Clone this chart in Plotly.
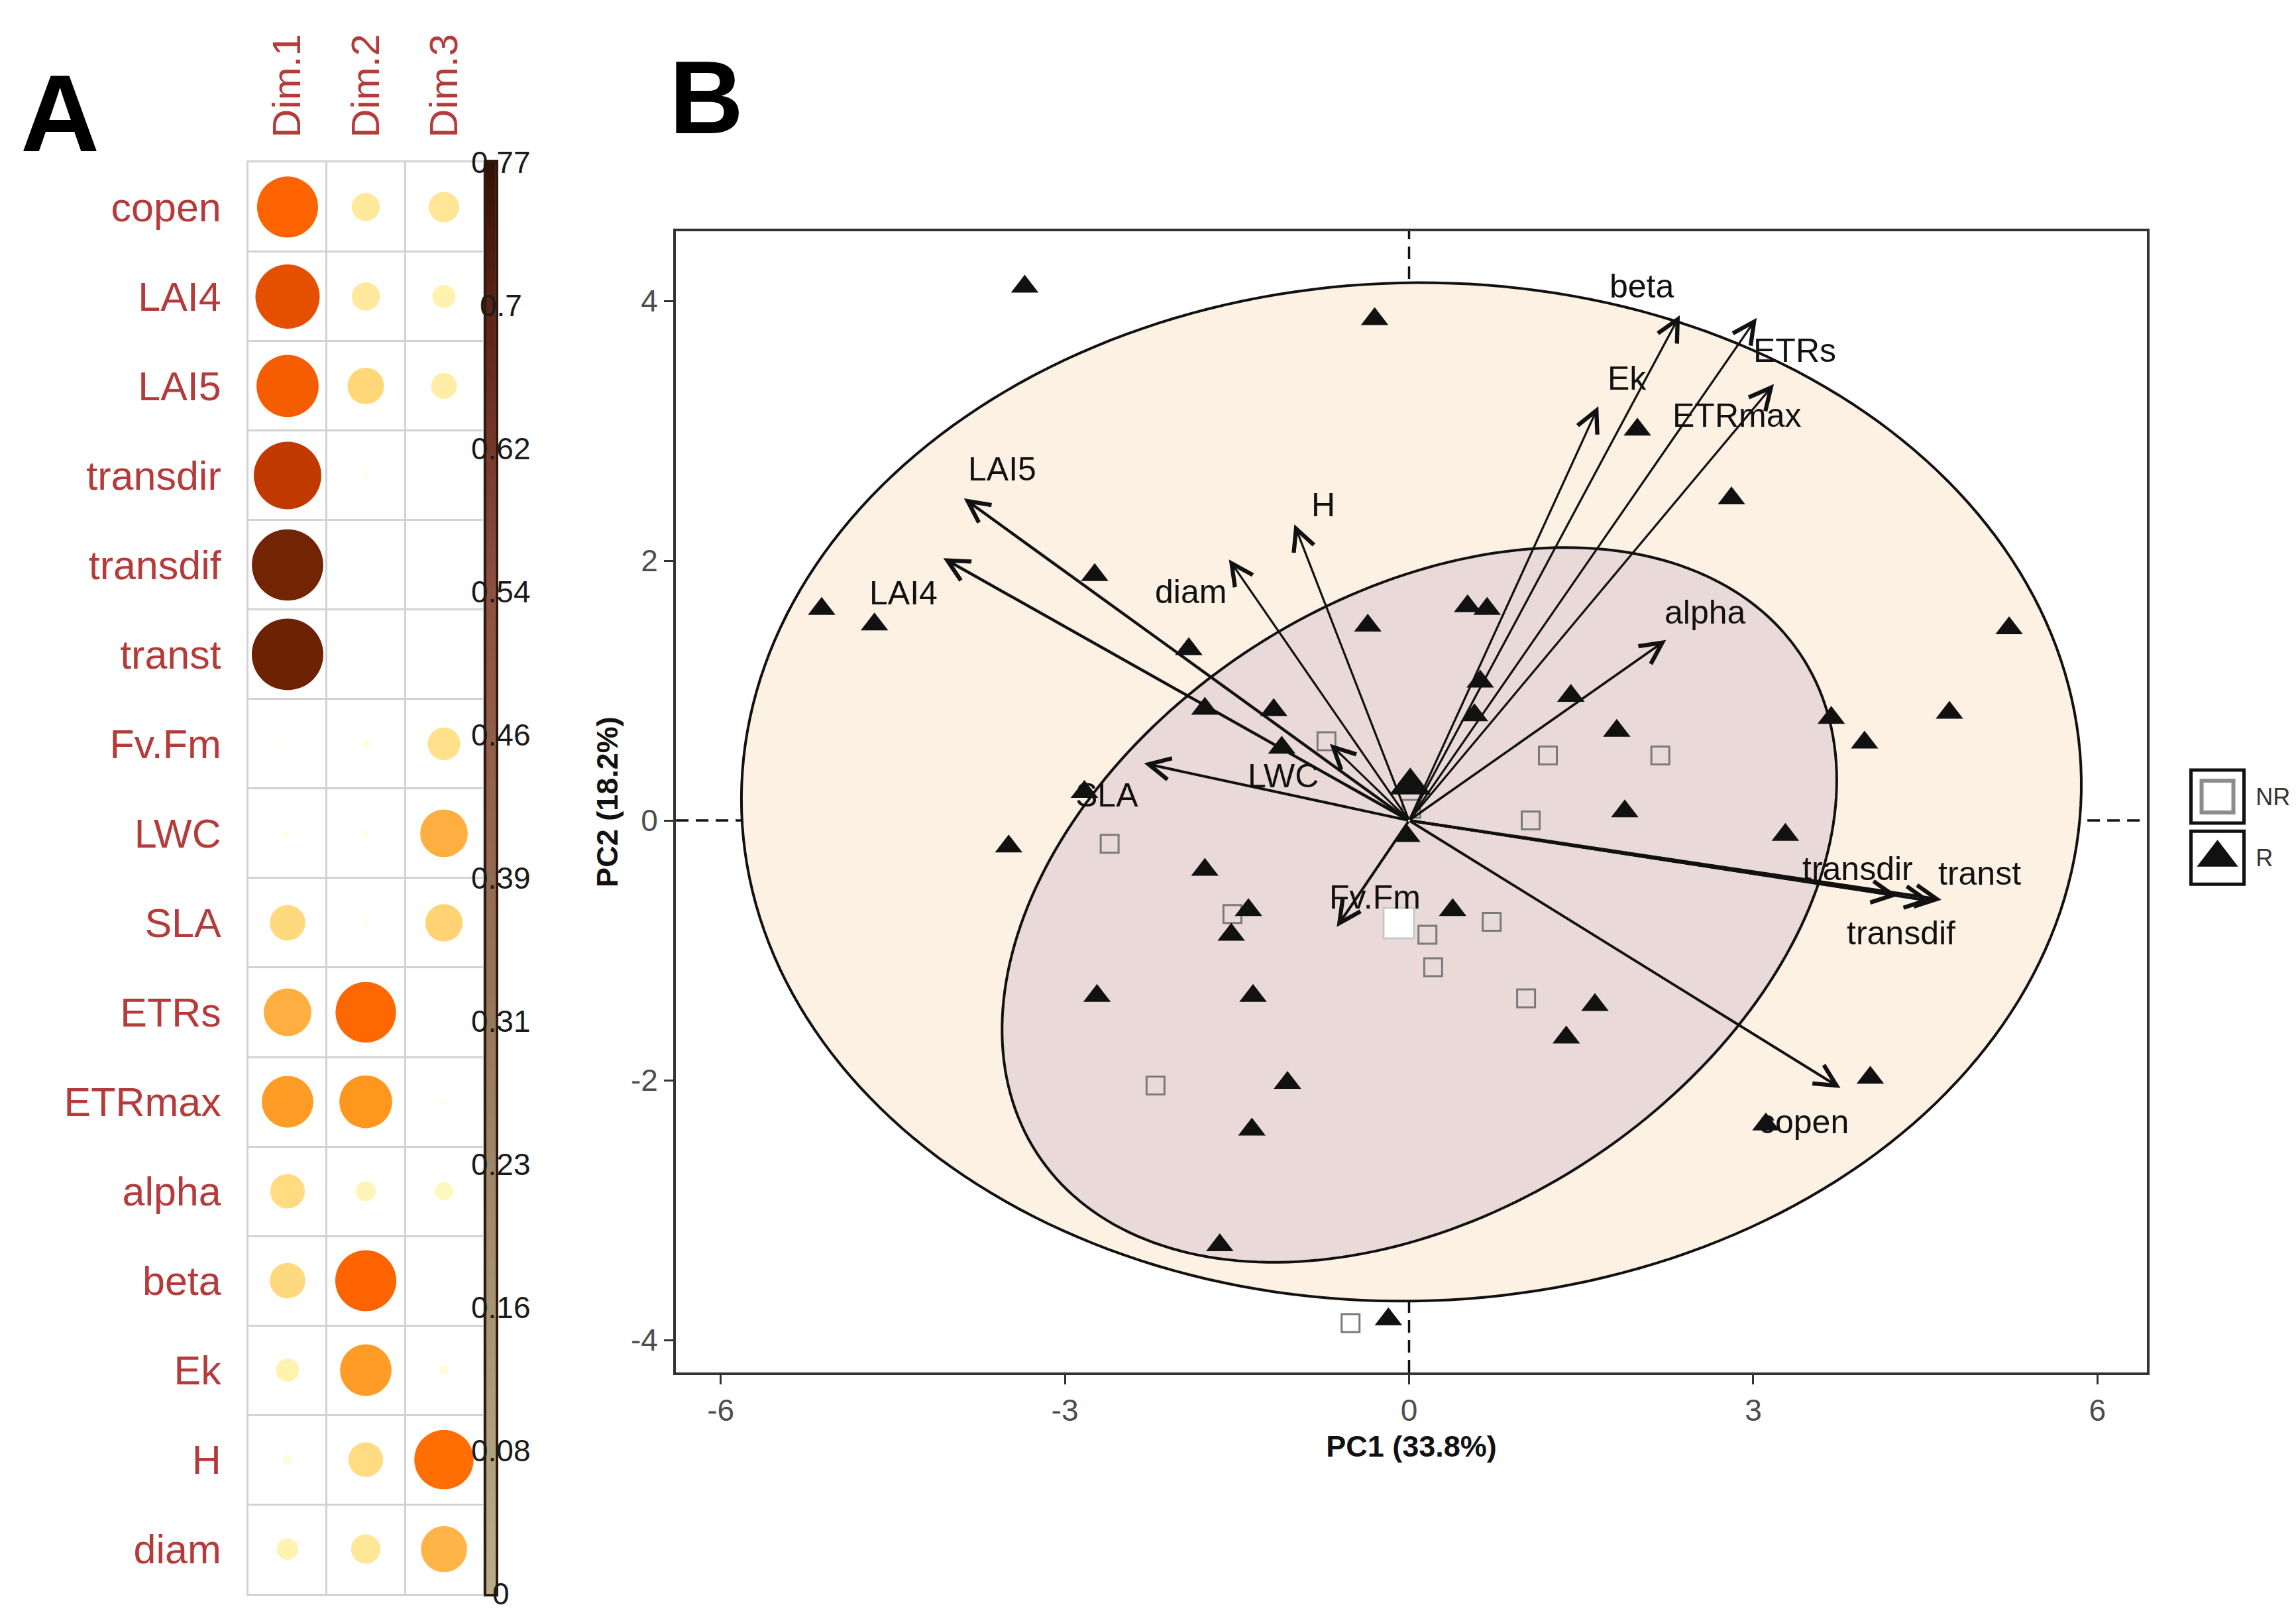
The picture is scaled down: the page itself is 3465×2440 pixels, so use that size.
import numpy as np
import plotly.graph_objects as go

W, H = 3465, 2440
FONT = "Liberation Sans, Arial, sans-serif"

# ---------------- Panel A data (cos2 of variables) ----------------
variables = ["copen", "LAI4", "LAI5", "transdir", "transdif", "transt", "Fv.Fm", "LWC",
             "SLA", "ETRs", "ETRmax", "alpha", "beta", "Ek", "H", "diam"]
dims = ["Dim.1", "Dim.2", "Dim.3"]
cos2_dim1 = [0.56, 0.62, 0.58, 0.685, 0.765, 0.77, 0.003, 0.006, 0.19, 0.34, 0.40, 0.18, 0.19, 0.08, 0.015, 0.07]
cos2_dim2 = [0.12, 0.12, 0.20, 0.003, 0.002, 0.002, 0.01, 0.006, 0.003, 0.55, 0.42, 0.06, 0.56, 0.40, 0.18, 0.13]
cos2_dim3 = [0.14, 0.08, 0.10, 0.002, 0.001, 0.001, 0.16, 0.34, 0.21, 0.002, 0.003, 0.05, 0.002, 0.015, 0.53, 0.32]
cbar_vals = [0.0, 0.077, 0.154, 0.231, 0.308, 0.385, 0.462, 0.539, 0.616, 0.693, 0.77]
cbar_text = ["0", "0.08", "0.16", "0.23", "0.31", "0.39", "0.46", "0.54", "0.62", "0.7", "0.77"]

# ---------------- Panel B data (PCA biplot) ----------------
nr_pc1 = [-0.72, 1.21, 2.19, 1.06, -2.61, -1.54, 0.16, 0.21, 0.72, 1.02, -2.21, -0.51, 0.02]
nr_pc2 = [0.61, 0.50, 0.50, 0.00, -0.18, -0.72, -0.88, -1.13, -0.78, -1.37, -2.04, -3.87, 0.09]
r_pc1 = [-3.35, -0.30, 1.99, 2.81, -5.12, -4.66, -2.74, -1.92, -0.36, 0.51, 0.68, 0.62, 0.57,
         1.41, 1.81, 1.88, 5.23, 3.68, 3.97, 4.71, 3.28, -1.78, -1.18, -1.11, -2.83, -3.49,
         -1.78, -1.40, -1.55, -2.72, -1.36, -1.06, -1.37, -1.65, -0.18, -0.02, 0.38, 1.62,
         1.37, 4.02, 3.11]
r_pc2 = [4.11, 3.86, 3.01, 2.48, 1.63, 1.51, 1.89, 1.32, 1.50, 1.65, 1.63, 1.07, 0.81,
         0.96, 0.69, 0.07, 1.48, 0.79, 0.60, 0.83, -0.11, 0.86, 0.85, 0.56, 0.22, -0.20,
         -0.38, -0.69, -0.88, -1.35, -1.35, -2.02, -2.38, -3.27, -3.84, -0.12, -0.69, -1.42,
         -1.67, -1.98, -2.34]
groups = ["NR", "R"]
group_mean_pc1 = [-0.09, 0.01]
group_mean_pc2 = [-0.79, 0.27]
# concentration ellipses: centre, semi-axes, rotation (degrees)
ell_cx = [0.09, 0.02]
ell_cy = [-0.65, 0.22]
ell_a = [3.86, 5.84]
ell_b = [2.43, 3.92]
ell_angle = [25.5, 1.0]

arrow_vars = ["LAI5", "LAI4", "diam", "H", "SLA", "LWC", "Fv.Fm", "beta", "ETRs", "Ek",
              "ETRmax", "alpha", "transdir", "transdif", "transt", "copen"]
arrow_pc1 = [-3.88, -4.06, -1.57, -1.00, -2.31, -0.69, -0.63, 2.36, 3.03, 1.65, 3.18, 2.24, 4.26, 4.55, 4.64, 3.76]
arrow_pc2 = [2.48, 2.02, 2.01, 2.28, 0.44, 0.59, -0.82, 3.89, 3.87, 3.19, 3.36, 1.39, -0.58, -0.62, -0.61, -2.06]

pc1_ticks = [-6, -3, 0, 3, 6]
pc2_ticks = [-4, -2, 0, 2, 4]

# ---------------- styles ----------------
label_shift = {"LAI5": (58, 44), "LAI4": (-60, -53), "diam": (-58, -49), "H": (44, 29),
               "SLA": (-56, -48), "LWC": (-71, -49), "Fv.Fm": (58, 45), "beta": (-57, 44),
               "ETRs": (57, -49), "Ek": (43, 42), "ETRmax": (-56, -47), "alpha": (59, 42),
               "transdir": (-61, 41), "transdif": (-45, -48), "transt": (58, 40), "copen": (-56, -51)}
arrow_w = {"LAI5": 4.4, "LAI4": 4.4, "SLA": 4.0, "copen": 4.0, "transdir": 4.0, "transdif": 4.0,
           "transt": 4.4, "Fv.Fm": 4.0, "alpha": 3.6}

cscale = [[0.0, "#FFFFE5"], [0.08, "#FFF5B5"], [0.17, "#FFE799"], [0.26, "#FFD678"],
          [0.42, "#FFB347"], [0.53, "#FF9A22"], [0.64, "#FF7A08"], [0.72, "#FF6600"],
          [0.81, "#E34E00"], [0.89, "#C03A00"], [0.95, "#962E02"], [1.0, "#6E2204"]]
bar_scale = [[0.0, "#B9AE88"], [0.4, "#96785A"], [0.7, "#8E5040"], [0.85, "#6A2C1E"], [1.0, "#351105"]]
A_RED = "#B53A3A"

fig = go.Figure()

# ---------------- Panel A: circles ----------------
cx, cy, cv = [], [], []
for i, v in enumerate(variables):
    for d, col in zip(dims, (cos2_dim1, cos2_dim2, cos2_dim3)):
        cx.append(d)
        cy.append(v)
        cv.append(col[i])
vmax = max(cbar_vals)
fig.add_trace(go.Scatter(
    x=cx, y=cy, mode="markers", xaxis="x2", yaxis="y2", hoverinfo="skip",
    marker=dict(size=cv, sizemode="area", sizeref=2 * vmax / (108 ** 2), sizemin=0,
                color=cv, colorscale=cscale, cmin=0, cmax=vmax, line=dict(width=0), opacity=1)))

# colour bar
fig.add_trace(go.Heatmap(
    x=[0, 1], y=cbar_vals, z=[[t, t] for t in cbar_vals], xaxis="x3", yaxis="y3",
    colorscale=bar_scale, zmin=0, zmax=vmax, zsmooth="best", showscale=False, hoverinfo="skip"))

# ---------------- Panel B ----------------
shapes = []
t = np.linspace(0, 2 * np.pi, 240)
fills = {0: "#E9DAD9", 1: "#FDF1E4"}
for k in [1, 0]:  # big (R) ellipse first, then NR
    th = np.deg2rad(ell_angle[k])
    ex = ell_cx[k] + ell_a[k] * np.cos(th) * np.cos(t) - ell_b[k] * np.sin(th) * np.sin(t)
    ey = ell_cy[k] + ell_a[k] * np.sin(th) * np.cos(t) + ell_b[k] * np.cos(th) * np.sin(t)
    path = "M " + " L ".join(f"{px:.4f},{py:.4f}" for px, py in zip(ex, ey)) + " Z"
    shapes.append(dict(type="path", path=path, xref="x", yref="y", layer="below",
                       fillcolor=fills[k], line=dict(color="#111111", width=4)))
shapes.append(dict(type="line", xref="x", yref="y domain", x0=0, x1=0, y0=0, y1=1, layer="below",
                   line=dict(color="#111111", width=3.5, dash="19px,11px")))
shapes.append(dict(type="line", xref="x domain", yref="y", x0=0, x1=1, y0=0, y1=0, layer="below",
                   line=dict(color="#111111", width=3.5, dash="19px,11px")))

fig.add_trace(go.Scatter(x=nr_pc1, y=nr_pc2, mode="markers", hoverinfo="skip",
                         marker=dict(symbol="square-open", size=27, color="#7A7A7A", line=dict(width=3))))
fig.add_trace(go.Scatter(x=r_pc1, y=r_pc2, mode="markers", hoverinfo="skip",
                         marker=dict(symbol="triangle-up", size=36, color="#111111")))
fig.add_trace(go.Scatter(x=[group_mean_pc1[0]], y=[group_mean_pc2[0]], mode="markers", hoverinfo="skip",
                         marker=dict(symbol="square", size=46, color="white", line=dict(color="#C8C8C8", width=3))))
fig.add_trace(go.Scatter(x=[group_mean_pc1[1]], y=[group_mean_pc2[1]], mode="markers", hoverinfo="skip",
                         marker=dict(symbol="triangle-up", size=54, color="#111111")))

annotations = []
for name, px, py in zip(arrow_vars, arrow_pc1, arrow_pc2):
    w = arrow_w.get(name, 3.2)
    annotations.append(dict(x=px, y=py, ax=0, ay=0, xref="x", yref="y", axref="x", ayref="y",
                            text="", showarrow=True, arrowhead=5, arrowwidth=w, arrowsize=6.4 / w,
                            arrowcolor="#111111", standoff=0, startstandoff=0))
for name, px, py in zip(arrow_vars, arrow_pc1, arrow_pc2):
    sx, sy = label_shift[name]
    annotations.append(dict(x=px, y=py, xref="x", yref="y", text=name, showarrow=False,
                            xanchor="center", yanchor="middle",
                            xshift=sx, yshift=sy, font=dict(family=FONT, size=50, color="#111111")))

# colour bar labels
for val, txt in zip(cbar_vals, cbar_text):
    annotations.append(dict(x=0.5, y=val, xref="x3 domain", yref="y3", text=txt, showarrow=False,
                            xanchor="center", yanchor="middle",
                            xshift=15, font=dict(family=FONT, size=46, color="#1A1A1A")))

# panel letters
annotations.append(dict(x=0.0237, y=0.933, xref="paper", yref="paper", text="<b>A</b>", showarrow=False,
                        xanchor="center", yanchor="middle",
                        font=dict(family=FONT, size=165, color="black")))
annotations.append(dict(x=0.3053, y=0.943, xref="paper", yref="paper", text="<b>B</b>", showarrow=False,
                        xanchor="center", yanchor="middle",
                        font=dict(family=FONT, size=155, color="black")))

# ---------------- legend (custom keys) ----------------
fig.add_trace(go.Scatter(x=[0, 0], y=groups, mode="markers", xaxis="x4", yaxis="y4", hoverinfo="skip",
                         marker=dict(symbol="square-open", size=80, color="#111111", line=dict(width=5))))
fig.add_trace(go.Scatter(x=[0], y=[groups[0]], mode="markers", xaxis="x4", yaxis="y4", hoverinfo="skip",
                         marker=dict(symbol="square", size=48, color="white", line=dict(color="#8C8C8C", width=6))))
fig.add_trace(go.Scatter(x=[0], y=[groups[1]], mode="markers", xaxis="x4", yaxis="y4", hoverinfo="skip",
                         marker=dict(symbol="triangle-up", size=54, color="#111111")))

fig.update_layout(
    width=W, height=H, margin=dict(l=0, r=0, t=0, b=0),
    paper_bgcolor="white", plot_bgcolor="white", showlegend=False,
    font=dict(family=FONT),
    shapes=shapes, annotations=annotations,
    # panel B axes
    xaxis=dict(domain=[0.2921, 0.9327], range=[-6.39, 6.43], tickvals=pc1_ticks,
               ticktext=[str(v) for v in pc1_ticks],
               ticks="outside", ticklen=14, tickwidth=3, tickcolor="#333333",
               showline=True, mirror=True, linecolor="#333333", linewidth=4,
               showgrid=False, zeroline=False,
               tickfont=dict(family=FONT, size=46, color="#4D4D4D"),
               title=dict(text="PC1 (33.8%)", standoff=14,
                          font=dict(family=FONT, size=45, color="#111111", weight="bold")),
               anchor="y"),
    yaxis=dict(domain=[0.1545, 0.8602], range=[-4.25, 4.536], tickvals=pc2_ticks,
               ticktext=[str(v) for v in pc2_ticks],
               ticks="outside", ticklen=14, tickwidth=3, tickcolor="#333333",
               showline=True, mirror=True, linecolor="#333333", linewidth=4,
               showgrid=False, zeroline=False,
               tickfont=dict(family=FONT, size=46, color="#4D4D4D"),
               title=dict(text="PC2 (18.2%)", standoff=6,
                          font=dict(family=FONT, size=45, color="#111111", weight="bold")),
               anchor="x"),
    # panel A axes
    xaxis2=dict(domain=[0.1059, 0.2081], type="category", categoryorder="array", categoryarray=dims,
                range=[-0.5, len(dims) - 0.5],
                side="top", tickangle=-90, tickson="boundaries", ticks="", showgrid=True,
                gridcolor="#D2D2D2", gridwidth=3, showline=True, mirror=True, linecolor="#D2D2D2",
                linewidth=3, zeroline=False, ticklabelstandoff=22,
                tickfont=dict(family=FONT, size=60, color=A_RED), anchor="y2"),
    yaxis2=dict(domain=[0.0176, 0.9029], type="category", categoryorder="array", categoryarray=variables,
                range=[len(variables) - 0.5, -0.5], tickson="boundaries", ticks="", showgrid=True,
                gridcolor="#D2D2D2", gridwidth=3, showline=True, mirror=True, linecolor="#D2D2D2",
                linewidth=3, zeroline=False, ticklabelstandoff=26,
                tickfont=dict(family=FONT, size=61, color=A_RED), anchor="x2"),
    # colour bar axes
    xaxis3=dict(domain=[0.2095, 0.2136], range=[0, 1], showticklabels=False, ticks="",
                showgrid=False, zeroline=False, showline=True, mirror=True, linecolor="#2E1A10",
                linewidth=4, anchor="y3"),
    yaxis3=dict(domain=[0.0176, 0.9029], range=[0, vmax], showticklabels=False, ticks="",
                showgrid=False, zeroline=False, showline=True, mirror=True, linecolor="#2E1A10",
                linewidth=4, anchor="x3"),
    # legend axes
    xaxis4=dict(domain=[0.9512, 0.9758], range=[-1, 1], visible=False, anchor="y4"),
    yaxis4=dict(domain=[0.454, 0.5295], type="category", categoryorder="array",
                categoryarray=[groups[1], groups[0]], range=[-0.5, 1.5], side="right", ticks="",
                showgrid=False, zeroline=False, showline=False, ticklabelstandoff=14,
                tickfont=dict(family=FONT, size=36, color="#333333"), anchor="x4"),
)

fig.write_html("out.html")
